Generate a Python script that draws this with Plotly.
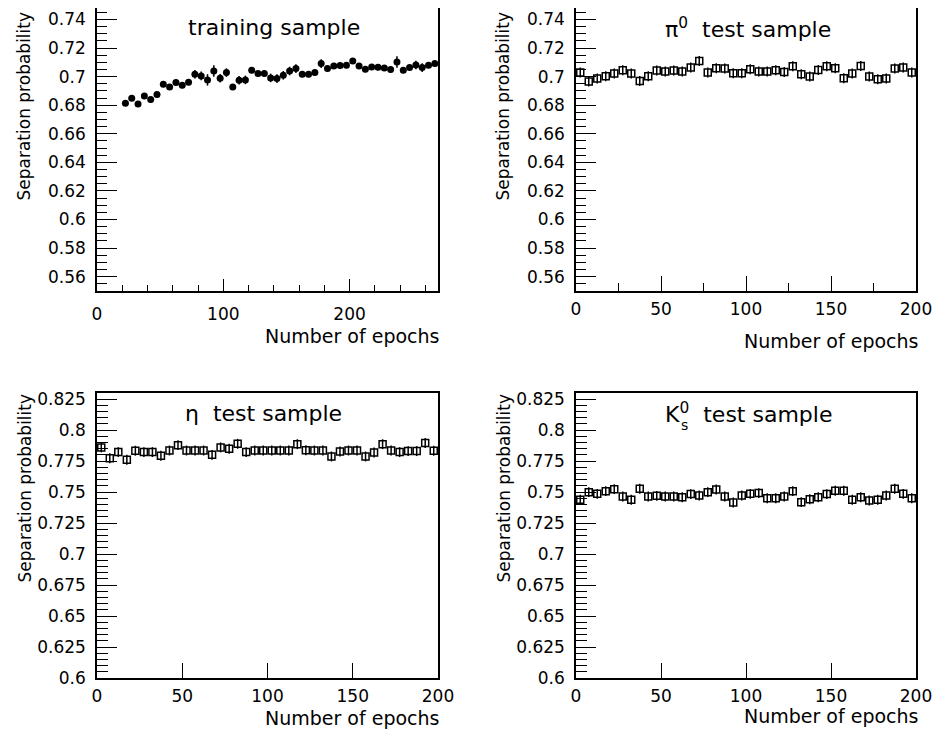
import plotly.graph_objects as go

# ---- data ----
train_epochs = [22.5 + 5 * i for i in range(50)]
train_prob = [0.6814, 0.6849, 0.6809, 0.6865, 0.6839, 0.6874, 0.6946, 0.6928, 0.6958, 0.6939,
              0.6960, 0.7016, 0.7005, 0.6977, 0.7039, 0.6988, 0.7028, 0.6928, 0.6974, 0.6977,
              0.7044, 0.7021, 0.7021, 0.6991, 0.6986, 0.7009, 0.7039, 0.7056, 0.7016, 0.7016,
              0.7028, 0.7091, 0.7056, 0.7074, 0.7077, 0.7079, 0.7109, 0.7074, 0.7051, 0.7067,
              0.7065, 0.7060, 0.7049, 0.7102, 0.7044, 0.7063, 0.7081, 0.7063, 0.7079, 0.7091]
train_err = [0.002, 0.002, 0.002, 0.002, 0.002, 0.002, 0.002, 0.002, 0.002, 0.002,
             0.002, 0.003, 0.003, 0.004, 0.004, 0.003, 0.003, 0.002, 0.003, 0.003,
             0.002, 0.002, 0.002, 0.003, 0.003, 0.003, 0.003, 0.003, 0.002, 0.002,
             0.002, 0.003, 0.002, 0.002, 0.002, 0.002, 0.002, 0.002, 0.002, 0.002,
             0.002, 0.002, 0.002, 0.004, 0.002, 0.002, 0.003, 0.003, 0.002, 0.002]

test_epochs = [2.5 + 5 * i for i in range(40)]
pi0_prob = [0.7028, 0.6965, 0.6986, 0.7002, 0.7021, 0.7044, 0.7021, 0.6970, 0.7002, 0.7042,
            0.7035, 0.7042, 0.7035, 0.7063, 0.7109, 0.7028, 0.7058, 0.7056, 0.7023, 0.7023,
            0.7051, 0.7035, 0.7035, 0.7044, 0.7033, 0.7072, 0.7016, 0.7000, 0.7046, 0.7072,
            0.7058, 0.6988, 0.7021, 0.7074, 0.7000, 0.6981, 0.6986, 0.7056, 0.7063, 0.7028]
pi0_err = [0.0035] * 40

eta_prob = [0.7861, 0.7774, 0.7823, 0.7761, 0.7834, 0.7823, 0.7823, 0.7793, 0.7836, 0.7879,
            0.7836, 0.7836, 0.7836, 0.7801, 0.7861, 0.7850, 0.7890, 0.7823, 0.7836, 0.7836,
            0.7836, 0.7836, 0.7836, 0.7887, 0.7838, 0.7836, 0.7836, 0.7788, 0.7828, 0.7836,
            0.7836, 0.7788, 0.7820, 0.7887, 0.7836, 0.7823, 0.7831, 0.7831, 0.7896, 0.7834]
eta_err = [0.004] * 40

k0s_prob = [0.7438, 0.7500, 0.7486, 0.7508, 0.7524, 0.7465, 0.7438, 0.7527, 0.7465, 0.7470,
            0.7465, 0.7465, 0.7459, 0.7484, 0.7473, 0.7500, 0.7521, 0.7465, 0.7416, 0.7473,
            0.7486, 0.7492, 0.7451, 0.7451, 0.7465, 0.7508, 0.7419, 0.7443, 0.7459, 0.7484,
            0.7511, 0.7511, 0.7438, 0.7459, 0.7432, 0.7438, 0.7473, 0.7527, 0.7486, 0.7451]
k0s_err = [0.004] * 40

top_yticks = [0.56, 0.58, 0.60, 0.62, 0.64, 0.66, 0.68, 0.70, 0.72, 0.74]
top_ylabels = ["0.56", "0.58", "0.6", "0.62", "0.64", "0.66", "0.68", "0.7", "0.72", "0.74"]
bot_yticks = [0.6, 0.625, 0.65, 0.675, 0.7, 0.725, 0.75, 0.775, 0.8, 0.825]
bot_ylabels = ["0.6", "0.625", "0.65", "0.675", "0.7", "0.725", "0.75", "0.775", "0.8", "0.825"]

# page has an 8px body margin, so the figure is drawn 8px in and 8px down
OFF = 8
W, H = 949 - OFF, 739 - OFF
FONT = "DejaVu Sans"


def px(x):
    return (x - OFF) / W


def py(y):
    return 1 - (y - OFF) / H


fig = go.Figure()


def add_series(x, y, err, xa, ya, filled):
    fig.add_trace(go.Scatter(
        x=x, y=y, xaxis=xa, yaxis=ya, mode="markers",
        error_y=dict(type="data", array=err, color="black", thickness=1.5, width=0),
        marker=dict(symbol="circle" if filled else "square-open", size=7,
                    color="black", line=dict(color="black", width=1.5 if not filled else 0)),
        showlegend=False))


add_series(train_epochs, train_prob, train_err, "x", "y", True)
add_series(test_epochs, pi0_prob, pi0_err, "x2", "y2", False)
add_series(test_epochs, eta_prob, eta_err, "x3", "y3", False)
add_series(test_epochs, k0s_prob, k0s_err, "x4", "y4", False)

base = dict(showline=True, linecolor="black", linewidth=1.5, mirror=True, ticks="inside",
            tickcolor="black", tickwidth=1.2, showgrid=False, zeroline=False, automargin=False,
            tickfont=dict(family=FONT, size=17, color="black"))

xl = [px(97), px(438)]
xr = [px(576), px(916)]
yt = [py(291), py(8)]
yb = [py(678), py(393)]

fig.update_layout(
    width=W, height=H, margin=dict(l=0, r=0, t=0, b=0),
    paper_bgcolor="white", plot_bgcolor="white",
    xaxis=dict(base, domain=xl, anchor="y", range=[0, 270], tickvals=[0, 100, 200], ticklen=12,
               ticklabelstandoff=7, minor=dict(dtick=20, ticklen=6, ticks="inside", tickcolor="black")),
    yaxis=dict(base, domain=yt, anchor="x", range=[0.55, 0.748], tickvals=top_yticks, ticktext=top_ylabels,
               ticklen=20, ticklabelstandoff=6, minor=dict(dtick=0.005, ticklen=10, ticks="inside", tickcolor="black")),
    xaxis2=dict(base, domain=xr, anchor="y2", range=[0, 200], tickvals=[0, 50, 100, 150, 200], ticklen=15,
                ticklabelstandoff=2, minor=dict(dtick=25, ticklen=8, ticks="inside", tickcolor="black")),
    yaxis2=dict(base, domain=yt, anchor="x2", range=[0.55, 0.748], tickvals=top_yticks, ticktext=top_ylabels,
                ticklen=20, ticklabelstandoff=6, minor=dict(dtick=0.005, ticklen=10, ticks="inside", tickcolor="black")),
    xaxis3=dict(base, domain=xl, anchor="y3", range=[0, 200], tickvals=[0, 50, 100, 150, 200], ticklen=15,
                ticklabelstandoff=2),
    yaxis3=dict(base, domain=yb, anchor="x3", range=[0.6, 0.83], tickvals=bot_yticks, ticktext=bot_ylabels,
                ticklen=20, ticklabelstandoff=6, minor=dict(dtick=0.005, ticklen=11, ticks="inside", tickcolor="black")),
    xaxis4=dict(base, domain=xr, anchor="y4", range=[0, 200], tickvals=[0, 50, 100, 150, 200], ticklen=15,
                ticklabelstandoff=2),
    yaxis4=dict(base, domain=yb, anchor="x4", range=[0.6, 0.83], tickvals=bot_yticks, ticktext=bot_ylabels,
                ticklen=20, ticklabelstandoff=6, minor=dict(dtick=0.005, ticklen=11, ticks="inside", tickcolor="black")),
)


def note(text, x, y, size, xanchor="center", yanchor="middle", angle=0):
    fig.add_annotation(text=text, x=px(x), y=py(y), xref="paper", yref="paper", showarrow=False,
                       xanchor=xanchor, yanchor=yanchor, textangle=angle,
                       font=dict(family=FONT, size=size, color="black"))


# panel titles
note("training sample", 274, 28, 22)
note("\u03c0<sup>0</sup>  test sample", 748, 28, 22)
note("\u03b7  test sample", 264, 413, 22)
note("K<sup>0</sup>  test sample", 748, 413, 22)
note("s", 684, 425, 14)

# axis titles
for xr_end, yy in [(441, 336), (920, 341), (441, 718), (920, 716)]:
    note("Number of epochs", xr_end, yy, 19, xanchor="right")
for xx, yy in [(24, 10), (503, 10), (24, 392), (503, 392)]:
    note("Separation probability", xx, yy, 17, yanchor="top", angle=-90)

fig.write_html("out.html")
